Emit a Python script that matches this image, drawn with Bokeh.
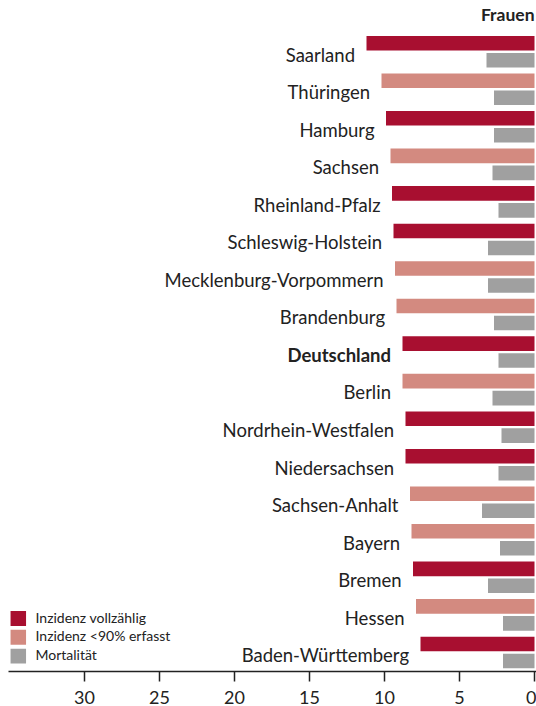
from bokeh.plotting import figure
from bokeh.models import Range1d, FixedTicker, ColumnDataSource
from bokeh.core.properties import value
from bokeh.embed import file_html
from bokeh.resources import INLINE

# ---- data ----
states = ["Saarland", "Thüringen", "Hamburg", "Sachsen", "Rheinland-Pfalz",
          "Schleswig-Holstein", "Mecklenburg-Vorpommern", "Brandenburg",
          "Deutschland", "Berlin", "Nordrhein-Westfalen", "Niedersachsen",
          "Sachsen-Anhalt", "Bayern", "Bremen", "Hessen", "Baden-Württemberg"]
incidence = [11.2, 10.2, 9.9, 9.6, 9.5, 9.4, 9.3, 9.2, 8.8, 8.8, 8.6, 8.6,
             8.3, 8.2, 8.1, 7.9, 7.6]
complete = [True, False, True, False, True, True, False, False, True, False,
            True, True, False, False, True, False, True]
mortality = [3.2, 2.7, 2.7, 2.8, 2.4, 3.1, 3.1, 2.7, 2.4, 2.8, 2.2, 2.4,
             3.5, 2.3, 3.1, 2.1, 2.1]
tick_values = [0, 5, 10, 15, 20, 25, 30]
legend_labels = ["Inzidenz vollzählig", "Inzidenz <90% erfasst", "Mortalität"]
title_text = "Frauen"

# ---- style ----
C_FULL = "#A80F30"
C_PART = "#D38A80"
C_MORT = "#A0A0A0"
TXT = "#222222"
FONT = "Lato"

W, H = 536, 706
LEFT = 8
FRAME_H = 672
PX_PER_UNIT = 15.0
ZERO_PX = 534.0
TEXT_SHIFT = -8.0

x_start = (ZERO_PX - LEFT) / PX_PER_UNIT
x_end = (ZERO_PX - W) / PX_PER_UNIT


def px2x(px):
    return (ZERO_PX - px) / PX_PER_UNIT


p = figure(width=W, height=H, output_backend="svg", toolbar_location=None,
           x_range=Range1d(x_start, x_end), y_range=Range1d(FRAME_H, 0),
           min_border_left=LEFT, min_border_right=0, min_border_top=0,
           min_border_bottom=H - FRAME_H)
p.outline_line_color = None
p.grid.visible = False
p.yaxis.visible = False
p.background_fill_color = "white"
p.border_fill_color = "white"

pitch = 37.6
first = 42.8
bar_h = 14.6
inc_y = [first + pitch * i for i in range(len(states))]
mort_y = [y + 17.0 for y in inc_y]
lab_y = [y + 19.3 + TEXT_SHIFT for y in inc_y]
colors = [C_FULL if c else C_PART for c in complete]

src = ColumnDataSource(dict(state=states, inc=incidence, mort=mortality,
                            inc_y=inc_y, mort_y=mort_y, lab_y=lab_y,
                            color=colors,
                            lab_x=[v + 11.5 / PX_PER_UNIT for v in incidence],
                            weight=["bold" if s == "Deutschland" else "normal" for s in states]))

p.hbar(y="inc_y", left=0, right="inc", height=bar_h, fill_color="color",
       line_color=None, source=src)
p.hbar(y="mort_y", left=0, right="mort", height=bar_h, fill_color=C_MORT,
       line_color=None, source=src)
p.text(x="lab_x", y="lab_y", text="state", source=src, text_align="right",
       text_baseline="alphabetic", text_font=value(FONT), text_font_size="18.5px",
       text_color=TXT, text_font_style="weight")

# title
p.text(x=[px2x(534)], y=[21.7 + TEXT_SHIFT], text=[title_text], text_align="right",
       text_baseline="alphabetic", text_font=value(FONT), text_font_size="17.5px",
       text_font_style="bold", text_color=TXT)

# legend
leg_cols = [C_FULL, C_PART, C_MORT]
leg_y = [619.0, 637.6, 656.6]
p.rect(x=[px2x(17.8)] * 3, y=leg_y, width=15.5 / PX_PER_UNIT, height=15.0,
       fill_color=leg_cols, line_color=None)
p.text(x=[px2x(35)] * 3, y=[y + 5.5 + TEXT_SHIFT + 1 for y in leg_y], text=legend_labels,
       text_align="left", text_baseline="alphabetic", text_font=value(FONT),
       text_font_size="14px", text_color=TXT)

ax = p.xaxis[0]
ax.ticker = FixedTicker(ticks=tick_values)
ax.major_label_overrides = {v: str(v) for v in tick_values}
ax.minor_tick_line_color = None
ax.major_tick_in = 0
ax.major_tick_out = 10
ax.axis_line_color = "#222222"
ax.axis_line_width = 1.5
ax.major_tick_line_color = "#222222"
ax.major_tick_line_width = 1.5
ax.major_label_text_font = FONT
ax.major_label_text_font_size = "18px"
ax.major_label_text_color = TXT
ax.major_label_standoff = 9

open("out.html", "w").write(file_html(p, INLINE))
